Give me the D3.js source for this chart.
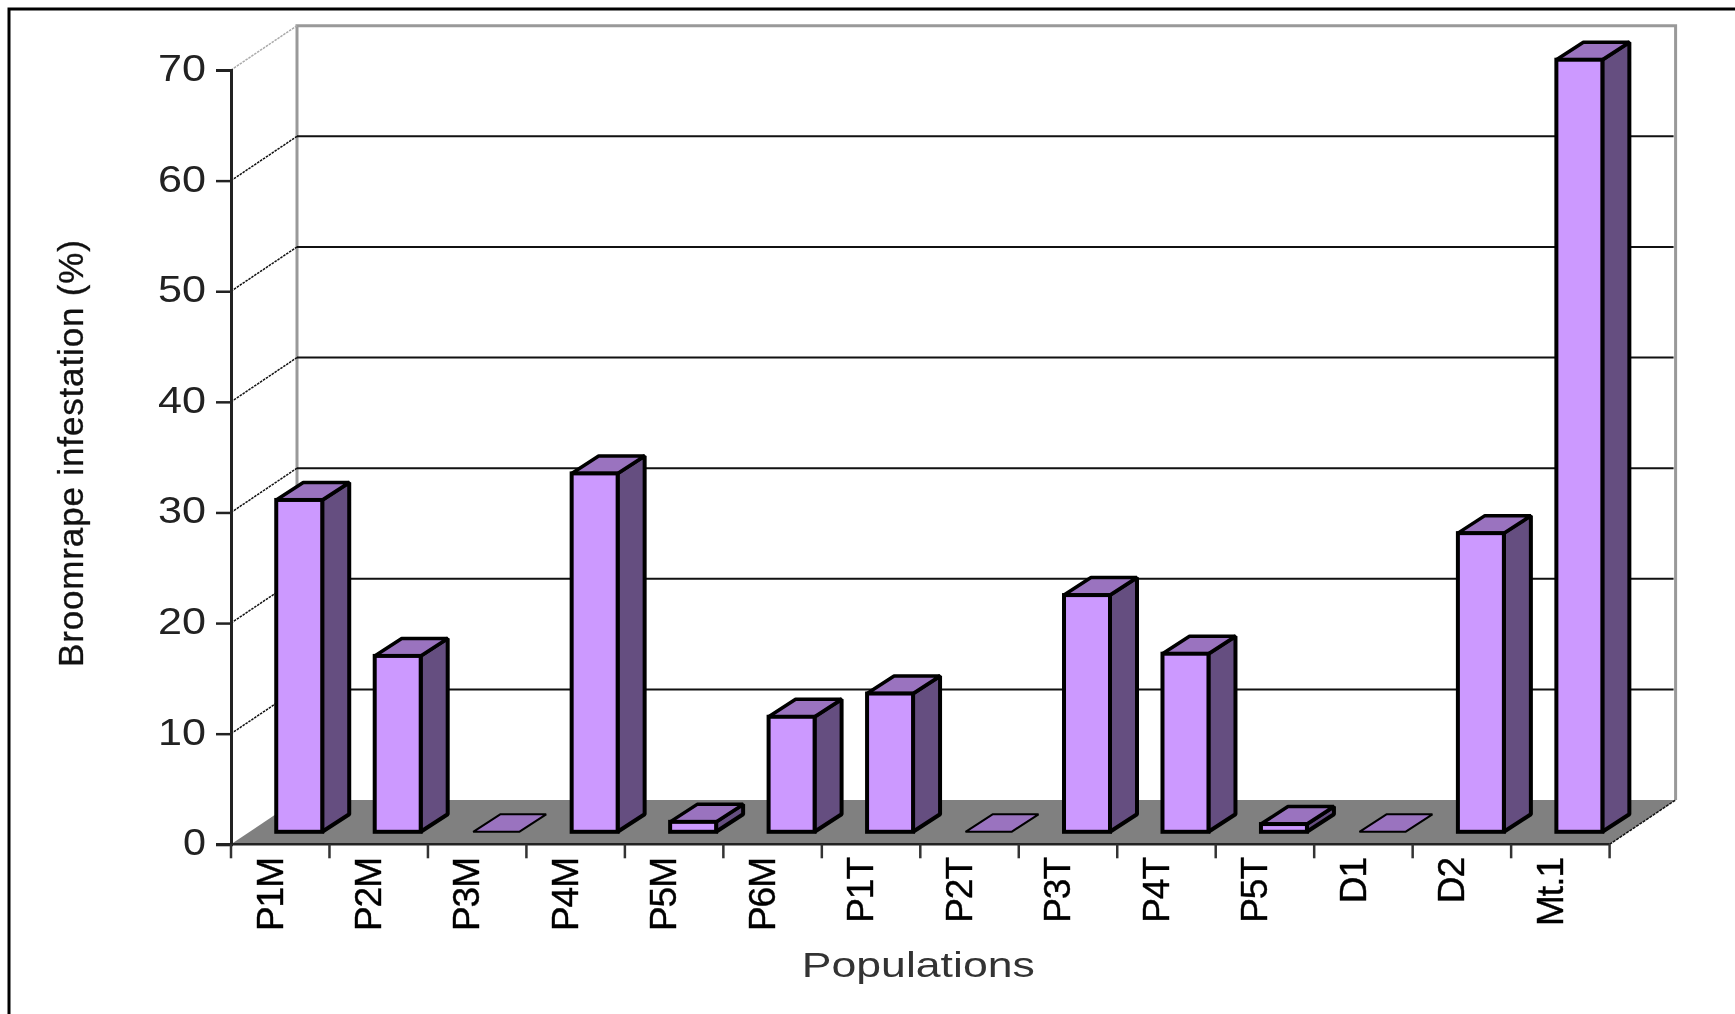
<!DOCTYPE html>
<html>
<head>
<meta charset="utf-8">
<script src="https://cdn.jsdelivr.net/npm/d3@7"></script>
<style>
    html, body { margin: 0; padding: 0; background: #fff; }
    svg { display: block; filter: blur(0.6px); }
    text { font-family: "Liberation Sans", Arial, sans-serif; }
</style>
</head>
<body>
<div id="chart"></div>
<script>
const populations = ["P1M", "P2M", "P3M", "P4M", "P5M", "P6M", "P1T", "P2T", "P3T", "P4T", "P5T", "D1", "D2", "Mt.1"];
const infestation = [30, 15.9, 0, 32.4, 0.9, 10.4, 12.5, 0, 21.4, 16.1, 0.7, 0, 27, 69.8];
const yTicks = [0, 10, 20, 30, 40, 50, 60, 70];

let width = 1735;
let height = 1014;

// chart box, 3d depth of the floor and depth of each bar
let plotLeft = 231, plotRight = 1609.6, plotBottom = 844.3, plotTop = 70;
let wallDx = 66, wallDy = 44.3;
let baseDx = 19, baseDy = 12.5;
let barDx = 27, barDy = 17.5;

let svg = d3.select("#chart").append("svg")
    .attr("width", width)
    .attr("height", height);

let xScale = d3.scaleBand()
    .domain(populations)
    .range([plotLeft, plotRight])
    .paddingInner(0.533)
    .paddingOuter(0.2665);
let yScale = d3.scaleLinear()
    .domain([0, 70])
    .range([plotBottom, plotTop]);

// outer frame, only top and left are visible in the picture
svg.append("path")
    .attr("d", `M9,${height + 5} V9 H${width + 5}`)
    .attr("fill", "none")
    .attr("stroke", "#000")
    .attr("stroke-width", 3);

// back wall
svg.append("path")
    .attr("d", `M${plotLeft + wallDx},${plotBottom - wallDy} V${plotTop - wallDy} H${plotRight + wallDx} V${plotBottom - wallDy}`)
    .attr("fill", "none")
    .attr("stroke", "#999")
    .attr("stroke-width", 3);

svg.selectAll(".grid")
    .data(yTicks.filter(t => t > 0 && t < 70))
    .enter()
    .append("line")
    .attr("class", "grid")
    .attr("x1", plotLeft + wallDx)
    .attr("x2", plotRight + wallDx - 2)
    .attr("y1", d => yScale(d) - wallDy)
    .attr("y2", d => yScale(d) - wallDy)
    .attr("stroke", "#111")
    .attr("stroke-width", 2);

// left wall diagonals
svg.selectAll(".diag")
    .data(yTicks.filter(t => t > 0))
    .enter()
    .append("line")
    .attr("class", "diag")
    .attr("x1", plotLeft)
    .attr("x2", plotLeft + wallDx)
    .attr("y1", d => yScale(d))
    .attr("y2", d => yScale(d) - wallDy)
    .attr("stroke", d => d === 70 ? "#aaa" : "#111")
    .attr("stroke-width", 1.5)
    .attr("stroke-dasharray", "2.5 1");

// floor
svg.append("polygon")
    .attr("points", [
        [plotLeft, plotBottom],
        [plotRight, plotBottom],
        [plotRight + wallDx, plotBottom - wallDy],
        [plotLeft + wallDx, plotBottom - wallDy]
    ].join(" "))
    .attr("fill", "#808080");
svg.append("line")
    .attr("x1", plotRight)
    .attr("y1", plotBottom)
    .attr("x2", plotRight + wallDx)
    .attr("y2", plotBottom - wallDy)
    .attr("stroke", "#111")
    .attr("stroke-width", 1.5)
    .attr("stroke-dasharray", "3 1");

// axes
let yAxis = d3.axisLeft(yScale)
    .tickValues(yTicks)
    .tickSize(15)
    .tickPadding(10);
let yG = svg.append("g")
    .attr("transform", `translate(${plotLeft}, 0)`)
    .call(yAxis);
yG.select(".domain").attr("stroke", "#222").attr("stroke-width", 3);
yG.selectAll(".tick line").attr("stroke", "#222").attr("stroke-width", 2.5);
yG.selectAll(".tick text")
    .attr("font-size", 36)
    .attr("font-family", "Liberation Sans")
    .attr("fill", "#222")
    .attr("dy", 10.5)
    .attr("textLength", d => d === 0 ? 23 : 48)
    .attr("lengthAdjust", "spacingAndGlyphs");

let xG = svg.append("g");
xG.append("line")
    .attr("x1", plotLeft - 15)
    .attr("x2", plotRight)
    .attr("y1", plotBottom)
    .attr("y2", plotBottom)
    .attr("stroke", "#222")
    .attr("stroke-width", 2.5);
let step = xScale.step();
xG.selectAll(".xtick")
    .data(d3.range(populations.length + 1))
    .enter()
    .append("line")
    .attr("class", "xtick")
    .attr("x1", i => plotLeft + i * step)
    .attr("x2", i => plotLeft + i * step)
    .attr("y1", plotBottom)
    .attr("y2", plotBottom + 14)
    .attr("stroke", "#333")
    .attr("stroke-width", 2.5);

// bars: front, top and side faces
let bars = svg.selectAll(".bar")
    .data(populations.map((p, i) => ({ name: p, value: infestation[i] })))
    .enter()
    .append("g")
    .attr("class", "bar")
    .attr("stroke", "#000")
    .attr("stroke-linejoin", "bevel");

let x0 = d => xScale(d.name) + baseDx;
let x1 = d => x0(d) + xScale.bandwidth();
let y0 = () => plotBottom - baseDy;
let y1 = d => yScale(d.value) - baseDy;

bars.filter(d => d.value > 0).append("polygon")
    .attr("points", d => [
        [x1(d), y1(d)],
        [x1(d) + barDx, y1(d) - barDy],
        [x1(d) + barDx, y0() - barDy],
        [x1(d), y0()]
    ].join(" "))
    .attr("fill", "#654e80")
    .attr("stroke-width", 4);
bars.append("polygon")
    .attr("points", d => [
        [x0(d), y1(d)],
        [x1(d), y1(d)],
        [x1(d) + barDx, y1(d) - barDy],
        [x0(d) + barDx, y1(d) - barDy]
    ].join(" "))
    .attr("fill", "#9a73bf")
    .attr("stroke-width", d => d.value > 0 ? 3.5 : 2);
bars.filter(d => d.value > 0).append("rect")
    .attr("x", x0)
    .attr("y", y1)
    .attr("width", xScale.bandwidth())
    .attr("height", d => y0() - y1(d))
    .attr("fill", "#cc99ff")
    .attr("stroke-linejoin", "miter")
    .attr("stroke-width", 4);

// category labels, rotated
svg.selectAll(".xlabel")
    .data(populations)
    .enter()
    .append("text")
    .attr("class", "xlabel")
    .attr("transform", (d, i) => `translate(${plotLeft + i * step + 51.5}, 858) rotate(-90)`)
    .attr("text-anchor", "end")
    .attr("font-size", 37)
    .attr("letter-spacing", -1)
    .attr("fill", "#000")
    .attr("stroke", "#000")
    .attr("stroke-width", 0.4)
    .text(d => d);

svg.append("text")
    .attr("x", 801.8)
    .attr("y", 976.7)
    .attr("font-size", 35)
    .attr("fill", "#333")
    .attr("textLength", 233)
    .attr("lengthAdjust", "spacingAndGlyphs")
    .text("Populations");

svg.append("text")
    .attr("transform", "translate(83.3, 667) rotate(-90)")
    .attr("font-size", 35)
    .attr("fill", "#111")
    .attr("stroke", "#111")
    .attr("stroke-width", 0.3)
    .attr("textLength", 427)
    .attr("lengthAdjust", "spacing")
    .text("Broomrape infestation (%)");
</script>
</body>
</html>
